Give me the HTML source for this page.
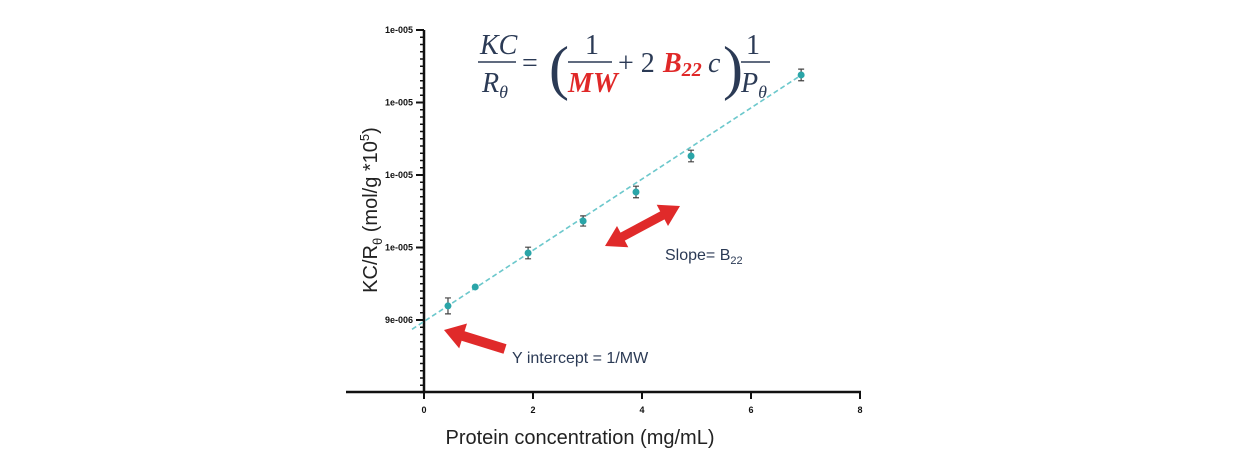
<!DOCTYPE html>
<html><head><meta charset="utf-8"><style>
body{margin:0;background:#fff;}
svg{display:block;font-family:"Liberation Sans",sans-serif;}
</style></head><body>
<svg id="chart" width="1255" height="459" viewBox="0 0 1255 459">
<g id="axes"></g><g id="marks"></g>
<g font-family="'Liberation Serif',serif" fill="#2b3a55" font-size="28">
  <text x="480" y="54" font-style="italic">KC</text>
  <line x1="478" y1="62" x2="516" y2="62" stroke="#2b3a55" stroke-width="1.6"/>
  <text x="482" y="92" font-style="italic">R<tspan font-size="18" dy="6">θ</tspan></text>
  <text x="522" y="72">=</text>
  <text x="549" y="88" font-size="60" font-weight="lighter">(</text>
  <text x="585" y="54">1</text>
  <line x1="568" y1="62" x2="612" y2="62" stroke="#2b3a55" stroke-width="1.6"/>
  <text x="568" y="92" font-style="italic" font-weight="bold" fill="#e02828">MW</text>
  <text x="618" y="72">+ 2</text>
  <text x="663" y="72" font-style="italic" font-weight="bold" fill="#e02828">B<tspan font-size="20" dy="4">22</tspan></text>
  <text x="708" y="72" font-style="italic">c</text>
  <text x="723" y="88" font-size="60">)</text>
  <text x="746" y="54">1</text>
  <line x1="741" y1="62" x2="770" y2="62" stroke="#2b3a55" stroke-width="1.6"/>
  <text x="741" y="92" font-style="italic">P<tspan font-size="18" dy="6">θ</tspan></text>
</g>
<polygon id="slopeArrow" fill="#e02a2a"/>
<polygon id="intArrow" fill="#e02a2a"/>
<text x="665" y="260" font-size="16" fill="#2b3a55">Slope= B<tspan font-size="11" dy="4">22</tspan></text>
<text x="512" y="363" font-size="16" fill="#2b3a55">Y intercept = 1/MW</text>
<text x="580" y="444" font-size="20" text-anchor="middle" fill="#222">Protein concentration (mg/mL)</text>
<text transform="translate(377,210) rotate(-90)" font-size="20" text-anchor="middle" fill="#222">KC/R<tspan font-size="13" dy="5">θ</tspan><tspan dy="-5"> (mol/g *10</tspan><tspan font-size="13" dy="-8">5</tspan><tspan dy="8">)</tspan></text>
</svg>
<script>
const xValues=[0.44,0.94,1.91,2.92,3.89,4.90,6.92];
const yValues=[9.097,9.228,9.462,9.683,9.883,10.131,10.69];
const yErrors=[0.055,0,0.04,0.035,0.04,0.04,0.04];
const xTicks=[0,2,4,6,8];
const yTicks=[9.0,9.5,10.0,10.5,11.0];
const yTickLabels=['9e-006','1e-005','1e-005','1e-005','1e-005'];
const fitIntercept=8.99, fitSlope=0.2455, fitStart=-0.22, fitEnd=6.92;
const X=v=>424+v*54.5, Y=v=>320-(v-9)*145;
const NS='http://www.w3.org/2000/svg';
function mk(p,t,a){const e=document.createElementNS(NS,t);for(const k in a)e.setAttribute(k,a[k]);p.appendChild(e);return e;}
function arrow(x1,y1,x2,y2,dbl,sw,hl,hw){
 const L=Math.hypot(x2-x1,y2-y1),ux=(x2-x1)/L,uy=(y2-y1)/L,nx=-uy,ny=ux;
 const P=(d,o)=>[x1+ux*d+nx*o,y1+uy*d+ny*o].map(v=>v.toFixed(1)).join(',');
 const s=dbl?hl:0,pts=[];
 if(dbl){pts.push(P(0,0),P(hl,hw/2),P(hl,sw/2));}else{pts.push(P(0,sw/2));}
 pts.push(P(L-hl,sw/2),P(L-hl,hw/2),P(L,0),P(L-hl,-hw/2),P(L-hl,-sw/2));
 if(dbl){pts.push(P(hl,-sw/2),P(hl,-hw/2));}else{pts.push(P(0,-sw/2));}
 return pts.join(' ');}
document.getElementById('slopeArrow').setAttribute('points',arrow(605,246,680,206,true,9,20,24));
document.getElementById('intArrow').setAttribute('points',arrow(505,349,444,330,false,10,20,26));
const ax=document.getElementById('axes'), mg=document.getElementById('marks');
let l=mk(ax,'line',{x1:424,y1:Y(11.0),x2:424,y2:393,stroke:'#111','stroke-width':2.5});


l=mk(ax,'line',{x1:346,y1:392,x2:861,y2:392,stroke:'#111','stroke-width':2.5});


for(let v=8.5;v<=11.0001;v+=0.05){mk(ax,'line',{x1:420,y1:Y(v),x2:424,y2:Y(v),stroke:'#111','stroke-width':1.5});}
yTicks.forEach((v,i)=>{mk(ax,'line',{x1:416,y1:Y(v),x2:424,y2:Y(v),stroke:'#111','stroke-width':2});
 const t=mk(ax,'text',{x:413,y:Y(v)+3,'font-size':9,'font-weight':'bold','text-anchor':'end',fill:'#111'});t.textContent=yTickLabels[i];
 
 });
xTicks.forEach(v=>{mk(ax,'line',{x1:X(v),y1:392,x2:X(v),y2:399,stroke:'#111','stroke-width':2});
 const t=mk(ax,'text',{x:X(v),y:413,'font-size':9,'font-weight':'bold','text-anchor':'middle',fill:'#111'});t.textContent=v;
 
 });
const fl=mk(mg,'line',{x1:X(fitStart),y1:Y(fitIntercept+fitSlope*fitStart),x2:X(fitEnd),y2:Y(fitIntercept+fitSlope*fitEnd),stroke:'#6cc8cc','stroke-width':1.6,'stroke-dasharray':'5,3'});


xValues.forEach((x,i)=>{const cx=X(x),cy=Y(yValues[i]);
 if(yErrors[i]>0){const e=yErrors[i],t=Y(yValues[i]+e),b=Y(yValues[i]-e);
  const g=mk(mg,'path',{d:`M${cx},${t}V${b}M${cx-3},${t}H${cx+3}M${cx-3},${b}H${cx+3}`,stroke:'#444','stroke-width':1.2,fill:'none'});
  
  }
 const c=mk(mg,'circle',{cx:cx,cy:cy,r:3.5,fill:'#2aa5a8'});
 
 });
</script>
</body></html>
